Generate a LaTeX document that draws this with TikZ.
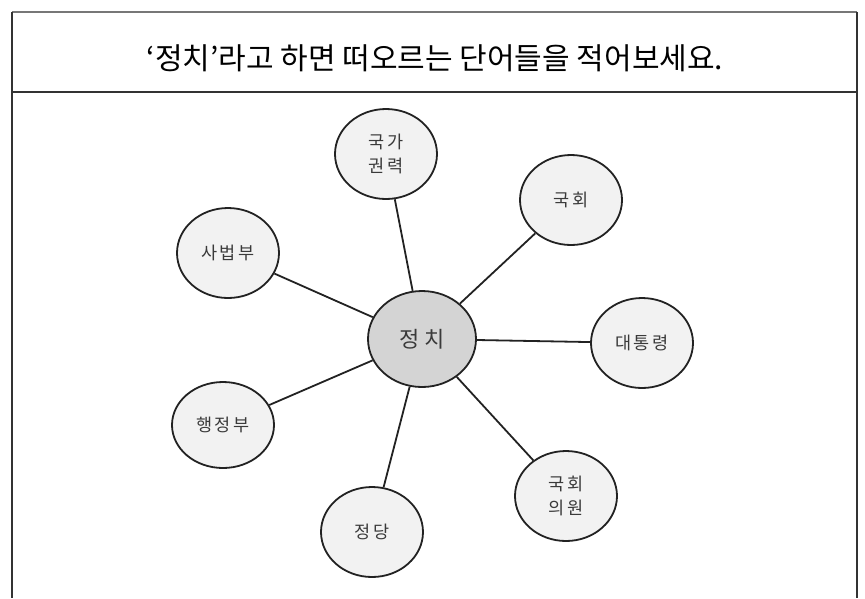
\documentclass[tikz,border=0pt]{standalone}
\usepackage{fontspec}
\setmainfont{Noto Sans CJK KR}
\usetikzlibrary{shapes.geometric}
\definecolor{linec}{HTML}{222222}
\definecolor{framec}{HTML}{333333}
\definecolor{topc}{HTML}{777777}
\definecolor{centerfill}{HTML}{D4D4D4}
\definecolor{leaffill}{HTML}{F2F2F2}
\definecolor{txtc}{HTML}{3A3A3A}
\tikzset{
  bubble/.style={ellipse, draw=linec, line width=1.8pt, fill=leaffill, inner sep=0pt,
    minimum width=102pt, minimum height=90pt, text=txtc, align=center,
    font=\fontsize{17.5}{24}\selectfont\addfontfeature{LetterSpace=12}},
  hub/.style={bubble, fill=centerfill, minimum width=108pt, minimum height=96pt,
    font=\fontsize{22}{26}\selectfont\addfontfeature{LetterSpace=22}},
  link/.style={draw=linec, line width=1.8pt}
}
\begin{document}
\begin{tikzpicture}[x=1pt,y=-1pt]
\useasboundingbox (0,0) rectangle (865,598);
% frame
\draw[topc, line width=1.5pt] (12,12) -- (857,12);
\draw[framec, line width=1.5pt] (12,92) -- (857,92);
\draw[framec, line width=1.5pt] (12,12) -- (12,598);
\draw[framec, line width=1.5pt] (857,12) -- (857,598);
\node[font=\fontsize{30}{34}\selectfont, text=black, inner sep=0pt] (title) at (435,58)
  {‘정치’라고 하면 떠오르는 단어들을 적어보세요.};
% nodes
\node[hub] (c) at (422,339) {정치};
\node[bubble] (gk) at (386,154) {국가\\권력};
\node[bubble] (gh) at (571,200) {국회};
\node[bubble] (sb) at (228,253) {사법부};
\node[bubble] (dt) at (642,343) {대통령};
\node[bubble, minimum height=86pt] (hj) at (223,425) {행정부};
\node[bubble] (gu) at (566,496) {국회\\의원};
\node[bubble] (jd) at (372,532) {정당};
% links
\foreach \n in {gk,gh,sb,dt,hj,gu,jd} \draw[link] (c) -- (\n);
\end{tikzpicture}
\end{document}
